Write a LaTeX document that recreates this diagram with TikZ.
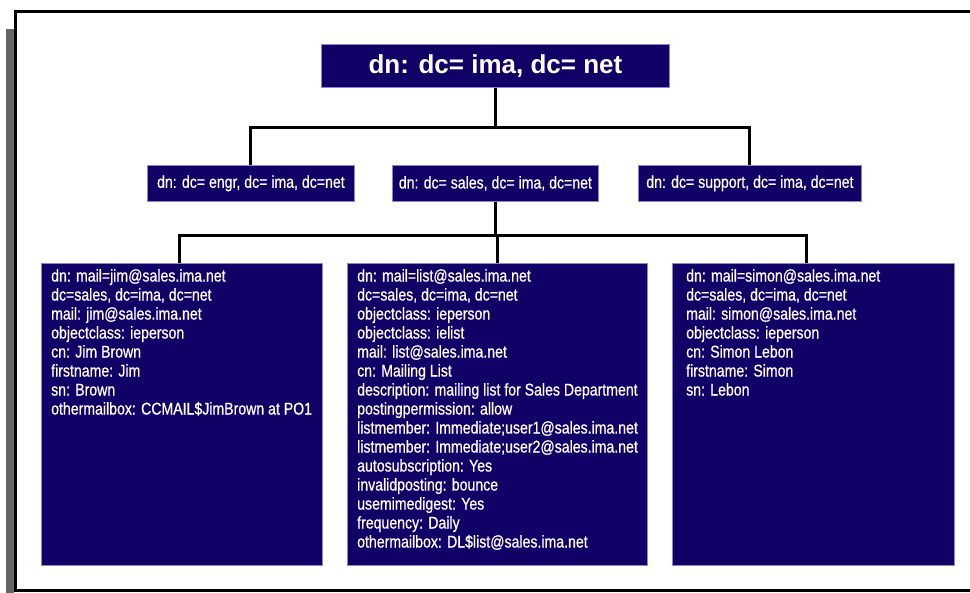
\documentclass[tikz,border=0pt]{standalone}
\usepackage{fontspec}
\setmainfont{Liberation Sans}
\newfontfamily\narrowsf{Liberation Sans}[FakeStretch=0.83,FakeBold=0.6]
\usetikzlibrary{positioning,calc}
\definecolor{dirNavy}{HTML}{110066}
\definecolor{dirEdge}{HTML}{8A86C8}
\definecolor{frameShade}{HTML}{666666}
\tikzset{
  dirbox/.style={draw=dirEdge, fill=dirNavy, line width=0.8pt,
    inner sep=0pt, anchor=north west, text=white,
    font=\narrowsf\fontsize{17}{19}\selectfont},
  dirtext/.style={text=white, font=\narrowsf\fontsize{17}{19}\selectfont,
    inner sep=0pt, align=left, anchor=north west},
  treeline/.style={draw=black, line width=3pt},
}

\begin{document}
\begin{tikzpicture}[x=1pt,y=-1pt]

% --- CANVAS (pixel grid, origin top left) ---
\useasboundingbox (0,0) rectangle (970,593);
\clip (0,0) rectangle (970,593);
\fill[frameShade] (6,29) rectangle (14,593);
\draw[line width=3pt] (15,12) rectangle (990,590);

% --- ROOT ---
\node[dirbox, minimum width=348, minimum height=43,
  font=\bfseries\fontsize{26}{30}\selectfont] (root) at (321,44)
  {dn: dc= ima, dc= net};

% --- DOMAINS ---
\node[dirbox, minimum width=207, minimum height=36] (engr) at (147,165)
  {dn: dc= engr, dc= ima, dc=net};
\node[dirbox, minimum width=206, minimum height=36] (sales) at (392,165)
  {dn: dc= sales, dc= ima, dc=net};
\node[dirbox, minimum width=223, minimum height=36] (support) at (638,165)
  {dn: dc= support, dc= ima, dc=net};

% --- ENTRIES ---
\node[dirbox, minimum width=281, minimum height=302] (jim) at (41,263) {};
\node[dirbox, minimum width=300, minimum height=302] (list) at (347,263) {};
\node[dirbox, minimum width=282, minimum height=302] (simon) at (672,263) {};

\node[dirtext] (jimtxt) at ([shift={(10,6)}]jim.north west)
  {dn: mail=jim@sales.ima.net\\
   dc=sales, dc=ima, dc=net\\
   mail: jim@sales.ima.net\\
   objectclass: ieperson\\
   cn: Jim Brown\\
   firstname: Jim\\
   sn: Brown\\
   othermailbox: CCMAIL\$JimBrown at PO1};

\node[dirtext] (listtxt) at ([shift={(10,6)}]list.north west)
  {dn: mail=list@sales.ima.net\\
   dc=sales, dc=ima, dc=net\\
   objectclass: ieperson\\
   objectclass: ielist\\
   mail: list@sales.ima.net\\
   cn: Mailing List\\
   description: mailing list for Sales Department\\
   postingpermission: allow\\
   listmember: Immediate;user1@sales.ima.net\\
   listmember: Immediate;user2@sales.ima.net\\
   autosubscription: Yes\\
   invalidposting: bounce\\
   usemimedigest: Yes\\
   frequency: Daily\\
   othermailbox: DL\$list@sales.ima.net};

\node[dirtext] (simontxt) at ([shift={(14,6)}]simon.north west)
  {dn: mail=simon@sales.ima.net\\
   dc=sales, dc=ima, dc=net\\
   mail: simon@sales.ima.net\\
   objectclass: ieperson\\
   cn: Simon Lebon\\
   firstname: Simon\\
   sn: Lebon};

% --- CONNECTORS ---
\draw[treeline] (root.south) -- ++(0,40) coordinate (topbus);
\draw[treeline] (engr.north) |- (topbus) -| (support.north);
\draw[treeline] (sales.south) -- ++(0,34) coordinate (lowbus);
\draw[treeline] ([xshift=-2.5]jim.north) |- (lowbus)
  -| ([xshift=-7]simon.north);
\draw[treeline] (list.north) -- (list.north |- lowbus);

\end{tikzpicture}
\end{document}
